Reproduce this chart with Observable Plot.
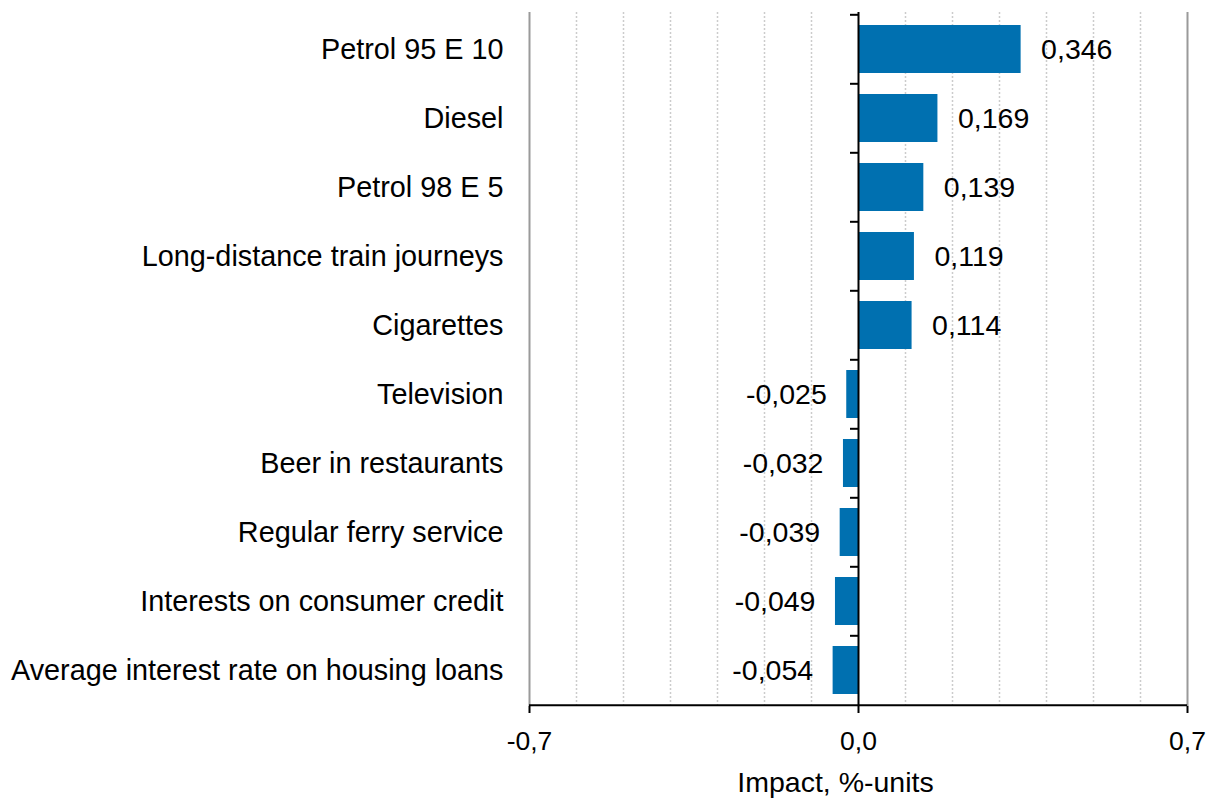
<!DOCTYPE html>
<html>
<head>
<meta charset="utf-8">
<script src="https://cdn.jsdelivr.net/npm/d3@7"></script>
<script src="https://cdn.jsdelivr.net/npm/@observablehq/plot@0.6"></script>
<style>
  html, body { margin: 0; padding: 0; background: #fff; }
  #chart svg { display: block; font-family: "Liberation Sans", Arial, sans-serif; }
</style>
</head>
<body>
<div id="chart"></div>
<script>
const categories = [
  "Petrol 95 E 10",
  "Diesel",
  "Petrol 98 E 5",
  "Long-distance train journeys",
  "Cigarettes",
  "Television",
  "Beer in restaurants",
  "Regular ferry service",
  "Interests on consumer credit",
  "Average interest rate on housing loans"
];
const values = [0.346, 0.169, 0.139, 0.119, 0.114, -0.025, -0.032, -0.039, -0.049, -0.054];
const xTicks = [-0.7, 0.0, 0.7];
const gridTicks = [-0.6, -0.5, -0.4, -0.3, -0.2, -0.1, 0.1, 0.2, 0.3, 0.4, 0.5, 0.6];
const xLabel = "Impact, %-units";

const data = categories.map((name, i) => ({name, value: values[i]}));
const locale = d3.formatLocale({decimal: ",", thousands: " ", grouping: [3], currency: ["", ""], minus: "-"});
const fmt3 = locale.format(".3f");
const fmt1 = locale.format(".1f");

const W = 1216, H = 804;
const mL = 529, mR = 29, mT = 12, mB = 98;
const step = (H - mT - mB) / categories.length;
const pxPerUnit = (W - mL - mR) / 1.4;
const tickLen = 8 / pxPerUnit;
const blue = "#0070b0";

const plot = Plot.plot({
  width: W,
  height: H,
  marginLeft: mL,
  marginRight: mR,
  marginTop: mT,
  marginBottom: mB,
  style: {fontFamily: "'Liberation Sans', Arial, sans-serif", fontSize: "28px", color: "#000", background: "#fff"},
  x: {domain: [-0.7, 0.7]},
  y: {domain: categories, paddingInner: 0.31, paddingOuter: 0.155},
  marks: [
    Plot.gridX({ticks: gridTicks, stroke: "#cccccc", strokeOpacity: 1, strokeWidth: 1.5, strokeDasharray: "2,2"}),
    Plot.ruleX([-0.7, 0.7], {stroke: "#9a9a9a", strokeWidth: 2}),
    Plot.barX(data, {x: "value", y: "name", fill: blue}),
    Plot.ruleX([0], {stroke: "#000", strokeWidth: 2}),
    Plot.ruleY(categories, {y: d => d, x1: -tickLen, x2: 0, dy: -step / 2, stroke: "#000", strokeWidth: 2}),
    Plot.ruleY([categories[categories.length - 1]], {y: d => d, dy: step / 2, stroke: "#000", strokeWidth: 2}),
    Plot.text(data.filter(d => d.value >= 0), {x: "value", y: "name", text: d => fmt3(d.value), textAnchor: "start", dx: 20, fontSize: 28.5, fill: "#000"}),
    Plot.text(data.filter(d => d.value < 0), {x: "value", y: "name", text: d => fmt3(d.value), textAnchor: "end", dx: -20, fontSize: 28.5, fill: "#000"}),
    Plot.axisY({tickSize: 0, tickPadding: 26, fontSize: 28.8, label: null, fill: "#000"}),
    Plot.axisX({ticks: xTicks, tickSize: 7, tickPadding: 18, tickFormat: fmt1, fontSize: 26.5, label: null, stroke: "#000", strokeWidth: 2, fill: "#000"}),
    Plot.text([xLabel], {frameAnchor: "bottom", text: d => d, dy: 85, dx: -23, fontSize: 28.5, fill: "#000"})
  ]
});
document.getElementById("chart").appendChild(plot);
</script>
</body>
</html>
